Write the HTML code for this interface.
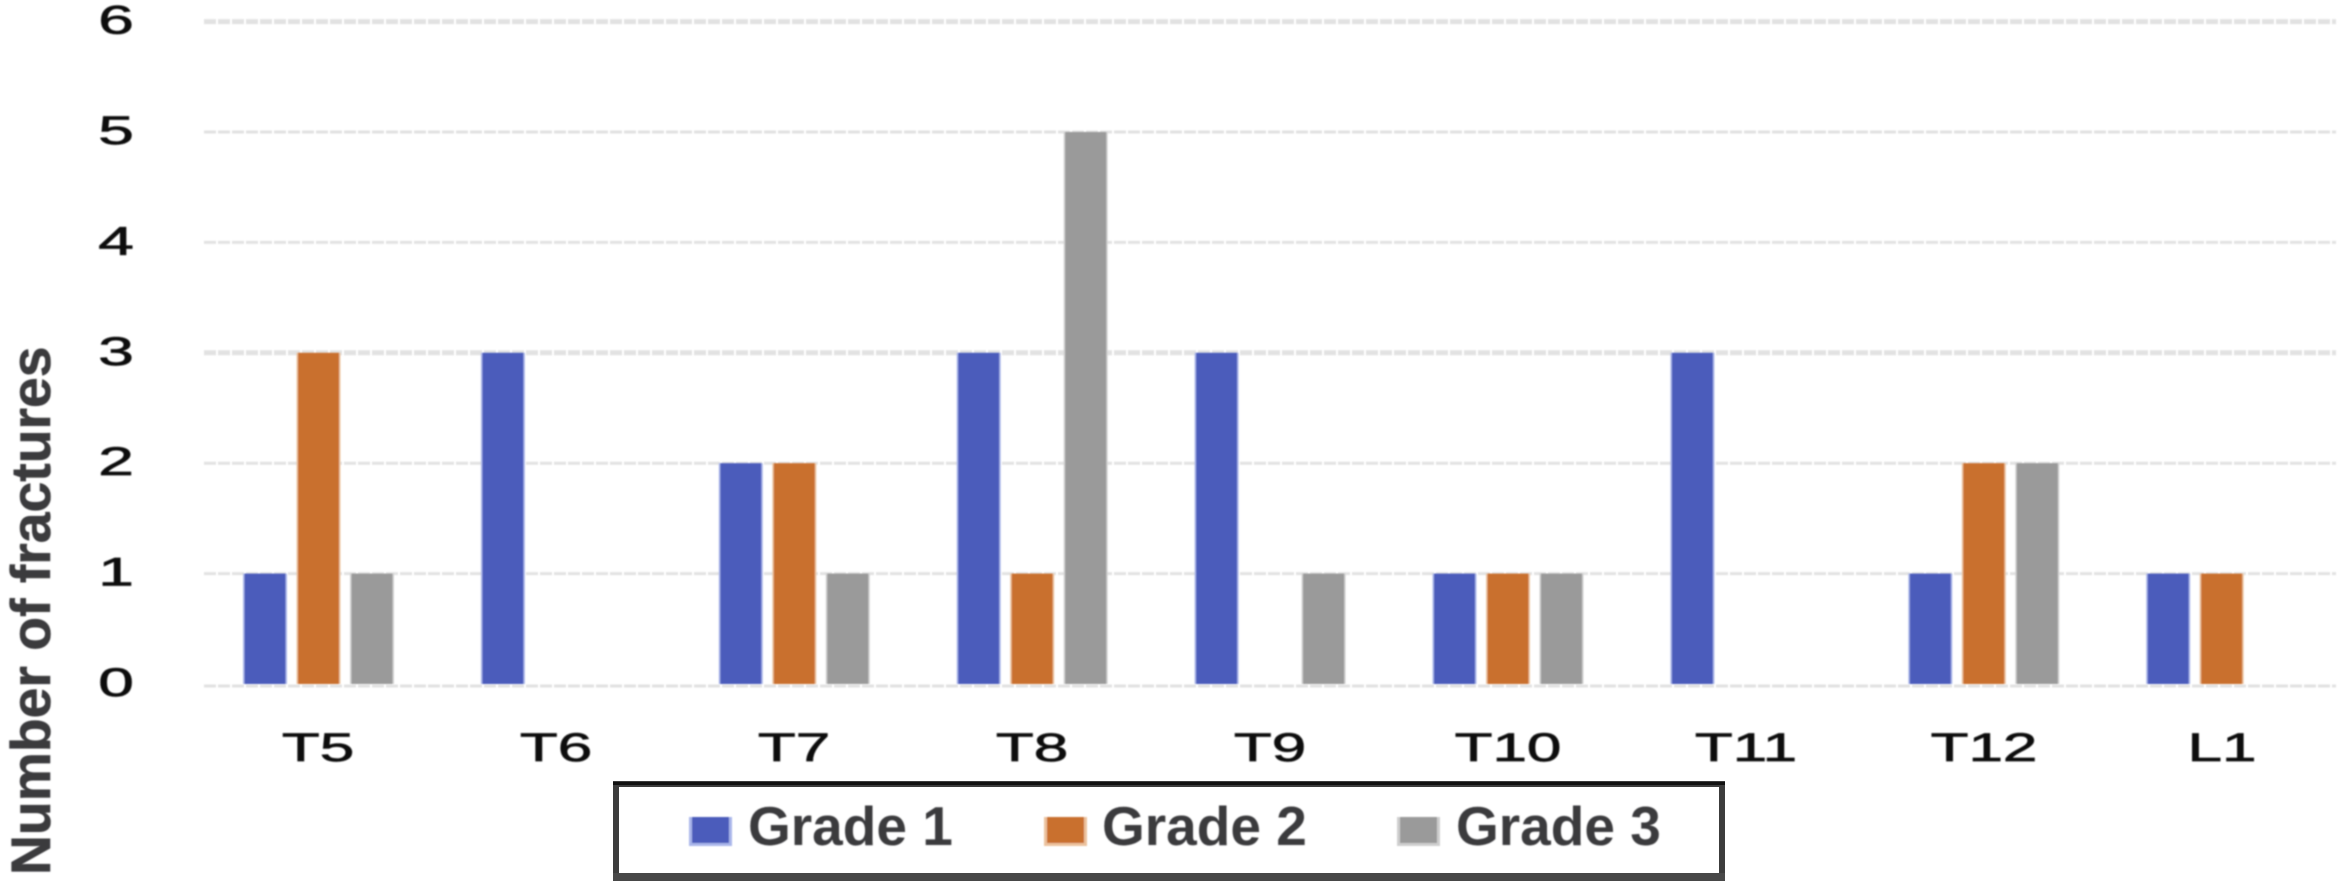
<!DOCTYPE html>
<html lang="en">
<head>
<meta charset="utf-8">
<title>Number of fractures by vertebral level and grade</title>
<style>
  html, body { margin: 0; padding: 0; background: #fff; }
  body { width: 2341px; height: 889px; overflow: hidden; }
  svg { display: block; font-family: "Liberation Sans", sans-serif; }
</style>
</head>
<body>
<svg id="chart" xmlns="http://www.w3.org/2000/svg" width="2341" height="889" viewBox="0 0 2341 889">
  <defs>
    <filter id="soft" x="-5%" y="-5%" width="110%" height="110%"><feGaussianBlur stdDeviation="0.8"/></filter>
  </defs>
  <rect x="0" y="0" width="2341" height="889" fill="#ffffff"/>
  <g id="grid" filter="url(#soft)"></g>
  <g id="bars" filter="url(#soft)"></g>
  <g id="yticks" filter="url(#soft)"></g>
  <g id="xticks" filter="url(#soft)"></g>
  <text transform="translate(50,875) rotate(-90)" font-size="55.3" font-weight="700" fill="#3a3a3c" stroke="#3a3a3c" stroke-width="0.6" filter="url(#soft)">Number of fractures</text>
  <g>
    <rect x="616" y="784" width="1106" height="94" fill="#ffffff" stroke="#3c3c3c" stroke-width="6"/>
    <rect x="613" y="873" width="1112" height="8" fill="#484848"/>
    <rect x="613" y="782" width="1112" height="3" fill="#111111"/>
    <g id="legend-items" filter="url(#soft)"></g>
  </g>
</svg>
<script>
const categories = ["T5", "T6", "T7", "T8", "T9", "T10", "T11", "T12", "L1"];
const grade1 = [1, 3, 2, 3, 3, 1, 3, 1, 1];
const grade2 = [3, 0, 2, 1, 0, 1, 0, 2, 1];
const grade3 = [1, 0, 1, 5, 1, 1, 0, 2, 0];
const yTicks = [0, 1, 2, 3, 4, 5, 6];
const seriesNames = ["Grade 1", "Grade 2", "Grade 3"];

const NS = "http://www.w3.org/2000/svg";
const seriesValues = [grade1, grade2, grade3];
const seriesFill = ["#4c5cbb", "#c9702f", "#9a9a9a"];
const seriesHalo = ["#a9b6ea", "#ecc29e", "#cfcfcf"];

function yScale(v) { return 684 - 110.4 * v; }
function groupStart(i) { return 243 + 237.9 * i; }
function barX(i, s) { return groupStart(i) + s * 53.5; }
function categoryCenter(i) { return 318 + 238 * i; }

function make(tag, attrs, parent) {
  const el = document.createElementNS(NS, tag);
  for (const k in attrs) el.setAttribute(k, attrs[k]);
  parent.appendChild(el);
  return el;
}

const gridG = document.getElementById("grid");
const yG = document.getElementById("yticks");
yTicks.forEach(function (t) {
  const line = make("line", {
    x1: 204, x2: 2336, y1: yScale(t) + (t === 0 ? 2 : 0), y2: yScale(t) + (t === 0 ? 2 : 0),
    stroke: "#e2e2e2", "stroke-width": (t === 6 || t === 3) ? 5 : 3, "stroke-dasharray": "12 2"
  }, gridG);
  
  

  const label = make("text", {
    transform: "translate(116," + (yScale(t) + 12) + ") scale(1.6,1)",
    "text-anchor": "middle", "font-size": 40, fill: "#111111", stroke: "#111111", "stroke-width": 0.7
  }, yG);
  label.textContent = t;
  
  
});

const barsG = document.getElementById("bars");
seriesValues.forEach(function (values, s) {
  values.forEach(function (v, i) {
    const halo = make("rect", {
      x: barX(i, s), y: yScale(v), width: 44, height: 684 - yScale(v),
      fill: seriesHalo[s]
    }, barsG);
    
    
    const bar = make("rect", {
      x: barX(i, s) + 1.5, y: yScale(v), width: 41, height: 684 - yScale(v),
      fill: seriesFill[s]
    }, barsG);
    
    
  });
});

const xG = document.getElementById("xticks");
categories.forEach(function (c, i) {
  const label = make("text", {
    transform: "translate(" + categoryCenter(i) + ",761) scale(1.55,1)",
    "text-anchor": "middle", "font-size": 40, fill: "#111111", stroke: "#111111", "stroke-width": 0.7
  }, xG);
  label.textContent = c;
  
  
});

const legendG = document.getElementById("legend-items");
const legendSwatchX = [689, 1044, 1397];
const legendTextX = [748, 1102, 1456];
seriesNames.forEach(function (name, s) {
  const halo = make("rect", { x: legendSwatchX[s], y: 817, width: 43, height: 29, fill: seriesHalo[s] }, legendG);
  
  
  const swatch = make("rect", { x: legendSwatchX[s] + 3, y: 817, width: 37, height: 26, fill: seriesFill[s] }, legendG);
  
  
  const text = make("text", { x: legendTextX[s], y: 845, "font-size": 55, "font-weight": 700, fill: "#3a3a3c" }, legendG);
  text.textContent = name;
  
  
});
</script>
</body>
</html>
